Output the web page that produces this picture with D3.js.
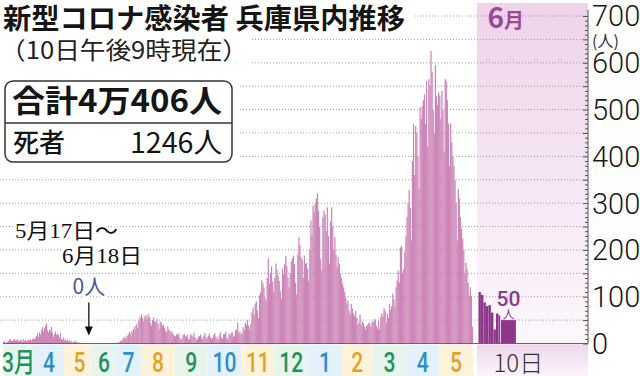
<!DOCTYPE html>
<html>
<head>
<meta charset="utf-8">
<script src="https://cdn.jsdelivr.net/npm/d3@7"></script>
<style>
  body { margin: 0; background: #fff; }
  svg { display: block; }
  text { font-family: "Noto Sans CJK JP", "Noto Sans", sans-serif; }
</style>
</head>
<body>
<svg id="chart" width="640" height="376"></svg>
<script>
// daily new cases in Hyogo (2020-03-01 .. 2021-05-31)
const mar20 = [3,6,1,2,4,6,8,9,6,5,8,10,6,7,9,5,6,8,7,4,9,6,7,5,6,8,7,10,6,9,12];
const apr20 = [9,12,16,22,14,24,19,30,35,26,33,38,43,28,24,30,27,36,22,14,20,26,18,21,18,12,22,10,8,13];
const may20 = [6,9,5,8,4,7,3,5,2,4,3,6,2,3,1,2,0,0,0,0,0,0,0,0,0,0,0,0,0,0,0];
const jun20 = [0,0,0,0,0,0,0,0,0,0,0,0,0,0,0,0,0,0,0,1,0,0,1,2,0,1,0,1,2,1];
const jul20 = [1,2,1,3,4,6,5,8,10,14,12,9,16,13,18,20,25,22,17,28,24,31,35,29,38,42,33,50,46,58,54];
const aug20 = [62,55,48,58,60,52,63,57,44,38,50,56,48,45,53,42,30,47,44,38,40,33,28,24,36,30,27,22,26,19,17];
const sep20 = [15,20,18,22,12,9,10,18,21,16,14,19,8,11,20,17,15,23,12,7,10,14,16,19,13,9,17,22,14,11];
const oct20 = [16,21,14,9,12,18,22,15,11,8,17,24,13,10,19,20,26,12,9,21,18,23,25,14,17,28,30,45,22,26,19];
const nov20 = [22,35,28,45,40,50,38,30,42,66,77,60,85,90,72,55,103,110,135,128,120,98,92,140,182,128,150,165,132,110];
const dec20 = [140,171,158,145,134,112,96,160,148,170,187,165,141,120,150,175,182,188,170,130,105,190,227,210,185,180,140,188,170,172,160];
const jan21 = [134,200,263,230,295,280,300,310,321,284,250,180,156,270,284,275,240,291,230,171,260,291,250,200,227,190,163,185,171,150,140];
const feb21 = [128,120,110,98,85,92,70,62,85,75,64,58,70,55,40,45,62,40,48,44,36,30,38,40,45,42,35,47];
const mar21 = [45,49,52,38,32,48,30,56,64,58,75,70,44,64,55,85,72,80,107,95,78,120,135,156,130,205,209,150,160,195,230];
const apr21 = [270,300,328,290,220,390,470,360,465,450,400,330,505,480,507,520,533,470,561,420,565,550,625,580,499,450,595,528,510,537];
const may21 = [530,480,540,499,410,565,560,520,470,380,470,430,400,380,350,300,220,330,310,270,245,224,200,150,173,160,130,103,120,100,36];
// June 2021, days 1..10
const jun21 = [110,104,88,80,82,66,30,64,60,50];

const monthLabels = ['3月','4','5','6','7','8','9','10','11','12','1','2','3','4','5'];
const yTicks = [0,100,200,300,400,500,600,700];
const gridValues = [50,100,150,200,250,300,350,400,450,500,550,600,650,700];

const months = [mar20, apr20, may20, jun20, jul20, aug20, sep20, oct20, nov20, dec20, jan21, feb21, mar21, apr21, may21];
const labelColors = ['#23915d', '#2d8fc7', '#e1a327'];
const bandColors = ['#e8f5ec', '#e3f1fa', '#fdf3da'];

const svg = d3.select('#chart');

// the graphic squeezes spring 2020 and runs denser after August
const x = d3.scaleTime()
  .domain([new Date(2020, 2, 1), new Date(2020, 4, 17), new Date(2020, 7, 1), new Date(2021, 5, 1)])
  .range([3, 80, 141, 473]);
const y = d3.scaleLinear().domain([0, 700]).range([343.5, 16]);
const xJun = d3.scaleLinear().domain([1, 10, 11]).range([478.5, 501, 516]);

let days = [];
months.forEach(function(arr, m) {
  let start = new Date(2020, 2 + m, 1);
  arr.forEach(function(v, i) {
    days.push({ date: d3.timeDay.offset(start, i), value: v });
  });
});
let juneDays = jun21.map(function(v, i) { return { day: i + 1, value: v }; });

// June shading
let defs = svg.append('defs');
let g1 = defs.append('linearGradient').attr('id', 'junbg').attr('x1', 0).attr('y1', 0).attr('x2', 0).attr('y2', 1);
g1.append('stop').attr('offset', '0%').attr('stop-color', '#eed3ea');
g1.append('stop').attr('offset', '100%').attr('stop-color', '#fdf7fc');
let g2 = defs.append('linearGradient').attr('id', 'junband').attr('x1', 0).attr('y1', 0).attr('x2', 0).attr('y2', 1);
g2.append('stop').attr('offset', '0%').attr('stop-color', '#efd6ec');
g2.append('stop').attr('offset', '100%').attr('stop-color', '#fcf6fb');

svg.append('rect')
  .attr('x', xJun(1) - 1.5).attr('y', 3)
  .attr('width', 588 - xJun(1) + 1.5).attr('height', y(0) - 3)
  .style('fill', 'url(#junbg)');
svg.append('rect')
  .attr('x', xJun(1) - 1.5).attr('y', y(0) + 1)
  .attr('width', 588 - xJun(1) + 1.5).attr('height', 376 - y(0))
  .style('fill', 'url(#junband)');

// month bands under the labels
svg.selectAll('.band')
  .data(monthLabels)
  .enter().append('rect')
  .attr('class', 'band')
  .attr('x', function(d, i) { return x(new Date(2020, 2 + i, 1)); })
  .attr('y', y(0) + 1)
  .attr('width', function(d, i) { return x(new Date(2020, 3 + i, 1)) - x(new Date(2020, 2 + i, 1)); })
  .attr('height', 376 - y(0))
  .style('fill', function(d, i) { return bandColors[i % 3]; });

// dotted grid
svg.selectAll('.grid')
  .data(gridValues)
  .enter().append('line')
  .attr('class', 'grid')
  .attr('x1', 0).attr('x2', 588)
  .attr('y1', function(d) { return y(d); })
  .attr('y2', function(d) { return y(d); })
  .style('stroke', '#9c9c9c')
  .style('stroke-width', 1)
  .style('stroke-dasharray', '1 2');

// white knock-outs behind the heading blocks
svg.append('rect').attr('x', 0).attr('y', 0).attr('width', 414).attr('height', 34).style('fill', '#fff');
svg.append('rect').attr('x', 0).attr('y', 34).attr('width', 252).attr('height', 33).style('fill', '#fff');
svg.append('rect').attr('x', 0).attr('y', 67).attr('width', 240).attr('height', 100).style('fill', '#fff');

// bars
svg.selectAll('.bar')
  .data(days)
  .enter().append('rect')
  .attr('class', 'bar')
  .attr('x', function(d) { return x(d.date); })
  .attr('width', function(d) { return x(d3.timeDay.offset(d.date, 1)) - x(d.date) + 0.15; })
  .attr('y', function(d) { return y(d.value); })
  .attr('height', function(d) { return y(0) - y(d.value); })
  .style('fill', '#cc86b7');

svg.selectAll('.jbar')
  .data(juneDays)
  .enter().append('rect')
  .attr('class', 'jbar')
  .attr('x', function(d) { return xJun(d.day); })
  .attr('width', function(d) { return xJun(d.day + 1) - xJun(d.day) - (d.day == 9 ? 0.8 : 0.1); })
  .attr('y', function(d) { return y(d.value); })
  .attr('height', function(d) { return y(0) - y(d.value); })
  .style('fill', '#8e3689');

// baseline and right axis
svg.append('line')
  .attr('x1', 3).attr('x2', 588).attr('y1', y(0)).attr('y2', y(0))
  .style('stroke', '#666').style('stroke-width', 1.2);

let axis = svg.append('g')
  .attr('transform', 'translate(588,0)')
  .call(d3.axisLeft(y).tickValues(d3.range(0, 701, 10)).tickSize(3).tickFormat(''));
axis.select('.domain').attr('d', 'M0,' + (y(700) - 6) + 'V' + y(0)).style('stroke', '#555');
axis.selectAll('.tick line')
  .style('stroke', '#555')
  .attr('x2', function(d) { return d % 50 == 0 ? -5 : -3; });

svg.selectAll('.ylab')
  .data(yTicks)
  .enter().append('text')
  .attr('class', 'ylab')
  .attr('x', 592)
  .attr('y', function(d) { return y(d); })
  .attr('dy', '0.36em')
  .style('font-family', 'Roboto, "Noto Sans", sans-serif')
  .style('font-weight', 300)
  .style('font-size', '29px')
  .style('fill', '#1a1a1a')
  .text(function(d) { return d; });
svg.append('text')
  .attr('x', 592).attr('y', y(700) + 31)
  .style('font-size', '16px').style('fill', '#333')
  .text('(人)');

// month labels
svg.selectAll('.mlab')
  .data(monthLabels)
  .enter().append('text')
  .attr('class', 'mlab')
  .attr('transform', function(d, i) {
    let mid = new Date((+new Date(2020, 2 + i, 1) + +new Date(2020, 3 + i, 1)) / 2);
    return 'translate(' + x(mid) + ',372) scale(0.78,1)';
  })
  .style('text-anchor', 'middle')
  .style('font-family', 'Roboto, "Noto Sans CJK JP", sans-serif')
  .style('font-weight', 500)
  .style('font-size', '27px')
  .style('fill', function(d, i) { return labelColors[i % 3]; })
  .text(function(d) { return d; });

svg.append('text')
  .attr('x', xJun(10) + (xJun(11) - xJun(10)) / 2 - 15)
  .attr('y', 372)
  .style('font-weight', 300)
  .style('font-size', '24px')
  .style('fill', '#333')
  .text('10日');

// headings
svg.append('text')
  .attr('x', 3).attr('y', 29)
  .attr('textLength', 402).attr('lengthAdjust', 'spacingAndGlyphs')
  .style('font-weight', 700).style('font-size', '28px').style('fill', '#151515')
  .text('新型コロナ感染者 兵庫県内推移');
svg.append('text')
  .attr('x', 0).attr('y', 59)
  .attr('textLength', 248).attr('lengthAdjust', 'spacingAndGlyphs')
  .style('font-weight', 400).style('font-size', '24px').style('fill', '#222')
  .text('（10日午後9時現在）');

svg.append('rect')
  .attr('x', 5).attr('y', 81).attr('width', 227).attr('height', 81)
  .attr('rx', 8)
  .style('fill', '#fff').style('stroke', '#333').style('stroke-width', 1.5);
svg.append('line')
  .attr('x1', 5).attr('x2', 232).attr('y1', 123).attr('y2', 123)
  .style('stroke', '#333').style('stroke-width', 1.5);
svg.append('text')
  .attr('x', 12).attr('y', 112)
  .attr('textLength', 210).attr('lengthAdjust', 'spacingAndGlyphs')
  .style('font-weight', 700).style('font-size', '31px').style('fill', '#151515')
  .text('合計4万406人');
svg.append('text')
  .attr('x', 13).attr('y', 152)
  .style('font-weight', 500).style('font-size', '26px').style('fill', '#151515')
  .text('死者');
svg.append('text')
  .attr('x', 130).attr('y', 153)
  .attr('textLength', 92).attr('lengthAdjust', 'spacingAndGlyphs')
  .style('font-weight', 400).style('font-size', '28px').style('fill', '#151515')
  .text('1246人');

// June heading and latest value
let jun = svg.append('text')
  .attr('x', xJun(1) + 9).attr('y', 28)
  .style('font-weight', 700).style('fill', '#9b4995');
jun.append('tspan').style('font-size', '28px').text('6');
jun.append('tspan').style('font-size', '20px').text('月');

let last = juneDays[juneDays.length - 1];
let lastX = (xJun(10) + xJun(11)) / 2;
svg.append('text')
  .attr('x', lastX).attr('y', y(last.value) - 14)
  .style('text-anchor', 'middle')
  .style('font-family', 'Roboto, "Noto Sans", sans-serif')
  .style('font-weight', 500).style('font-size', '21px').style('fill', '#8e3a8d')
  .text(last.value);
svg.append('text')
  .attr('x', lastX).attr('y', y(last.value) - 1.5)
  .style('text-anchor', 'middle')
  .style('font-size', '12px').style('fill', '#8e3a8d')
  .text('人');

// zero-case note
let noteX = x(new Date(2020, 4, 28));
function knockText(sel) {
  return sel.attr('paint-order', 'stroke')
    .style('stroke', '#fff').style('stroke-width', 5).style('stroke-linejoin', 'round');
}
knockText(svg.append('text')
  .attr('x', 15).attr('y', 238)
  .attr('textLength', 103).attr('lengthAdjust', 'spacingAndGlyphs')
  .style('font-family', '"Liberation Serif", "Noto Sans CJK JP", serif')
  .style('font-size', '21px').style('fill', '#111')
  .text('5月17日～'));
knockText(svg.append('text')
  .attr('x', 62).attr('y', 263)
  .attr('textLength', 80).attr('lengthAdjust', 'spacingAndGlyphs')
  .style('font-family', '"Liberation Serif", "Noto Sans CJK JP", serif')
  .style('font-size', '21px').style('fill', '#111')
  .text('6月18日'));
knockText(svg.append('text')
  .attr('x', noteX).attr('y', 294)
  .style('text-anchor', 'middle')
  .style('font-weight', 400).style('font-size', '21px').style('fill', '#48589a')
  .text('0人'));

svg.append('line')
  .attr('x1', noteX).attr('x2', noteX)
  .attr('y1', y(0) - 41).attr('y2', y(0) - 14)
  .style('stroke', '#fff').style('stroke-width', 4);
svg.append('line')
  .attr('x1', noteX).attr('x2', noteX)
  .attr('y1', y(0) - 41).attr('y2', y(0) - 14)
  .style('stroke', '#111').style('stroke-width', 1.3);
svg.append('path')
  .attr('d', 'M' + (noteX - 4) + ',' + (y(0) - 17) + 'L' + (noteX + 4) + ',' + (y(0) - 17) + 'L' + noteX + ',' + (y(0) - 8) + 'Z')
  .style('fill', '#111');
</script>
</body>
</html>
